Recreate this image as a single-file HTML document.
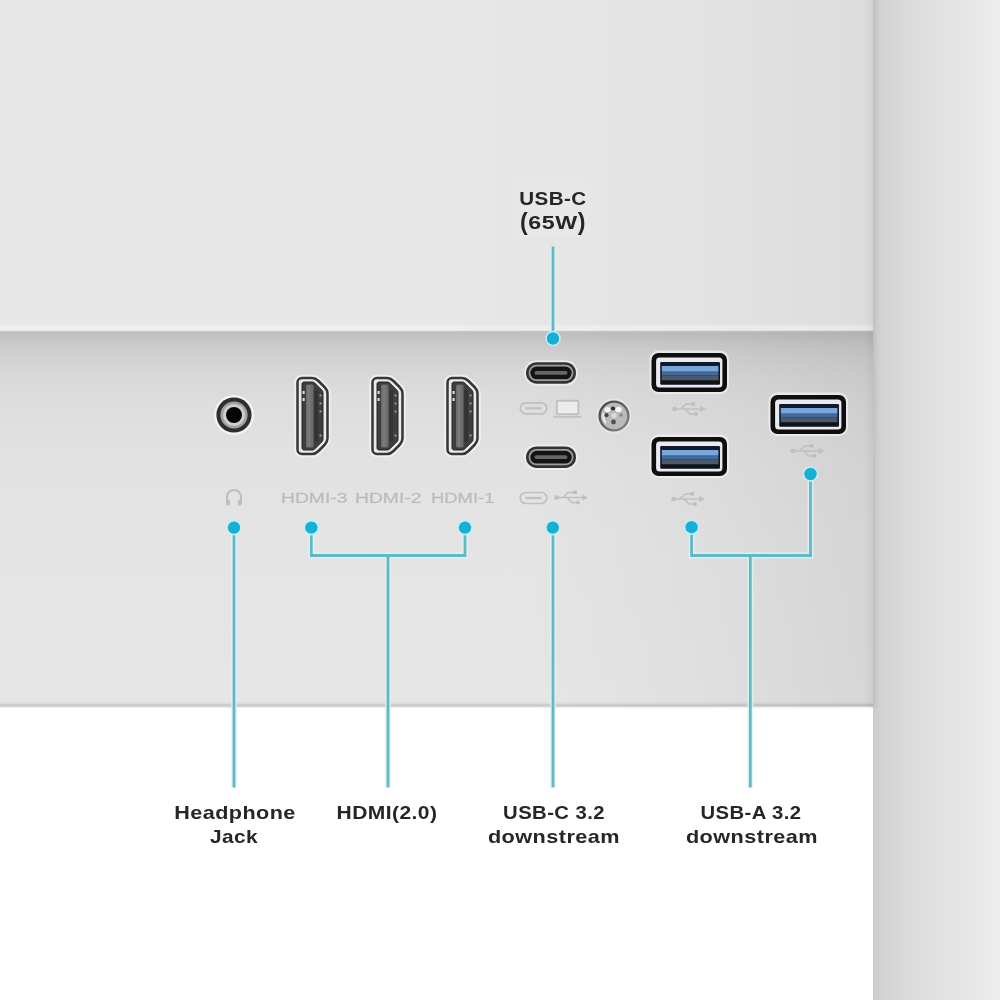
<!DOCTYPE html>
<html><head><meta charset="utf-8">
<style>
html,body{margin:0;padding:0;width:1000px;height:1000px;overflow:hidden;background:#fff;}
body{position:relative;font-family:"Liberation Sans",sans-serif;}
.a{position:absolute;}
#top{left:0;top:0;width:873px;height:332px;background:linear-gradient(to right,#e7e7e7 0px,#e7e7e7 450px,#e3e3e3 700px,#dcdcdc 873px);}
#hl{left:0;top:323px;width:873px;height:8px;background:linear-gradient(to bottom,rgba(255,255,255,0) 0,rgba(255,255,255,.35) 50%,rgba(255,255,255,.35) 75%,rgba(255,255,255,0) 100%);}
#mid{left:0;top:331px;width:873px;height:375px;background:linear-gradient(to bottom,#c6c6c6 0px,#bfbfbf 2px,#c3c3c3 6px,#c9c9c9 12px,#cfcfcf 20px,#d3d3d3 30px,#d8d8d8 45px,#dddddd 70px,#e2e2e2 130px,#e4e4e4 200px,#e6e6e6 372px,#e6e6e6 375px);}
#midr{left:0;top:331px;width:873px;height:375px;background:linear-gradient(to right,rgba(0,0,0,0) 0,rgba(0,0,0,0) 60%,rgba(0,0,0,.03) 82%,rgba(0,0,0,.07) 100%);}
#edge{left:0;top:702px;width:873px;height:7px;background:linear-gradient(to bottom,#e3e3e3 0px,#dcdcdc 1.5px,#cecece 2.5px,#cbcbcb 3.5px,#d4d4d4 4.5px,#f0f0f0 5.5px,#fff 7px);}
#bot{left:0;top:709px;width:873px;height:291px;background:#fff;}
#right{left:873px;top:0;width:127px;height:1000px;background:linear-gradient(to right,#cbcbcb 0px,#cecece 3px,#d3d3d3 10px,#d9d9d9 30px,#e0e0e0 60px,#e6e6e6 92px,#ececec 118px,#eeeeee 127px);}
.lbl{position:absolute;width:200px;filter:blur(0.25px);font-weight:bold;font-size:19px;letter-spacing:0.4px;line-height:24px;color:#262626;text-align:center;white-space:nowrap;transform-origin:50% 0;}
.pr{display:inline-block;transform:scaleY(1.3);transform-origin:50% 62%;}
.emb{position:absolute;font-size:14.5px;font-weight:normal;line-height:14px;color:#bcbcbc;-webkit-text-stroke:0.3px #bcbcbc;white-space:nowrap;text-shadow:0 1px 0 #f0f0f0;transform-origin:0 0;filter:blur(0.55px);}
#vsh{left:864px;top:0;width:16px;height:708px;background:linear-gradient(to right,rgba(0,0,0,0) 0,rgba(0,0,0,.03) 40%,rgba(0,0,0,.05) 60%,rgba(0,0,0,.02) 80%,rgba(0,0,0,0) 100%);}
svg{position:absolute;left:0;top:0;filter:blur(0.45px);}
</style></head><body>
<div class="a" id="top"></div>
<div class="a" id="hl"></div>
<div class="a" id="mid"></div>
<div class="a" id="edge"></div>
<div class="a" id="midr"></div>
<div class="a" id="bot"></div>
<div class="a" id="right"></div>
<div class="a" id="vsh"></div>
<div class="a" style="left:512px;top:177px;width:79px;height:61px;background:rgba(255,255,255,.09);filter:blur(1px);"></div>

<svg width="1000" height="1000" viewBox="0 0 1000 1000">
<defs>
 <linearGradient id="screwRing" x1="0" y1="0" x2="1" y2="1"><stop offset="0" stop-color="#3e3e3e"/><stop offset="1" stop-color="#8a8a8a"/></linearGradient>
 <filter id="soft" x="-20%" y="-20%" width="140%" height="140%"><feGaussianBlur stdDeviation="0.5"/></filter>
 <filter id="soft2" x="-20%" y="-20%" width="140%" height="140%"><feGaussianBlur stdDeviation="0.35"/></filter>
 <g id="hdmi">
  <path id="hdmiO" d="M6,1.5 H16 C19,1.5 20.5,2.5 22.5,4.5 L28.5,10.5 C30.5,12.5 31.5,14 31.5,17 V62 C31.5,65 30.5,66.5 28.5,68.5 L22.5,74.5 C20.5,76.5 19,77.5 16,77.5 H6 C3.5,77.5 1.5,75.5 1.5,73 V6 C1.5,3.5 3.5,1.5 6,1.5 Z" fill="none" stroke="#f4f4f4" stroke-width="6.5" opacity="0.75"/>
  <path d="M6,1.5 H16 C19,1.5 20.5,2.5 22.5,4.5 L28.5,10.5 C30.5,12.5 31.5,14 31.5,17 V62 C31.5,65 30.5,66.5 28.5,68.5 L22.5,74.5 C20.5,76.5 19,77.5 16,77.5 H6 C3.5,77.5 1.5,75.5 1.5,73 V6 C1.5,3.5 3.5,1.5 6,1.5 Z" fill="#ebebeb" stroke="#363636" stroke-width="2.5"/>
  <path d="M8,5.5 H16.5 C17.5,5.5 18,5.8 18.8,6.6 L26,13.8 C26.7,14.5 27,15 27,16 V63 C27,64 26.7,64.5 26,65.2 L18.8,72.4 C18,73.2 17.5,73.5 16.5,73.5 H8 C6.8,73.5 6,72.7 6,71.5 V7.5 C6,6.3 6.8,5.5 8,5.5 Z" fill="#3e3e3e" stroke="#262626" stroke-width="1"/>
  <rect x="10" y="8" width="7.5" height="63" rx="1.5" fill="#6c6c6c"/>
  <rect x="11.5" y="9" width="3" height="61" fill="#7a7a7a"/>
  <rect x="18.5" y="14" width="3.5" height="51" fill="#333"/>
  <rect x="6.5" y="14.5" width="2.2" height="3" fill="#d8d8d8"/>
  <rect x="6.5" y="21.5" width="2.2" height="3" fill="#d8d8d8"/>
  <rect x="23.5" y="18" width="2" height="2" fill="#9a9a9a"/>
  <rect x="23.5" y="26" width="2" height="2" fill="#9a9a9a"/>
  <rect x="23.5" y="34" width="2" height="2" fill="#9a9a9a"/>
  <rect x="23.5" y="58" width="2" height="2" fill="#9a9a9a"/>
 </g>
 <g id="usbc">
  <rect x="-2" y="-2" width="54" height="25.5" rx="12.75" fill="#f4f4f4" opacity="0.7"/>
  <rect x="0" y="0" width="50" height="21.5" rx="10.75" fill="#333"/>
  <rect x="2.6" y="2.6" width="44.8" height="16.3" rx="8.1" fill="#a0a0a0"/>
  <rect x="4.3" y="4.4" width="41.4" height="12.7" rx="6.3" fill="#141414"/>
  <rect x="8.5" y="8.8" width="33" height="3.8" rx="1.9" fill="#666"/>
 </g>
 <g id="usba">
  <rect x="-2" y="-2" width="79.5" height="43.5" rx="9" fill="#f2f2f2" opacity="0.7"/>
  <rect x="0" y="0.5" width="75.5" height="39" rx="7" fill="#0e0e0e"/>
  <rect x="4.6" y="5" width="66.3" height="30" rx="3.5" fill="#ebebef"/>
  <rect x="8.7" y="9.6" width="59.8" height="22.6" rx="1.2" fill="#0f1a2c"/>
  <rect x="10.3" y="13.5" width="56.6" height="5.7" fill="#79a7db"/>
  <rect x="10.3" y="19.2" width="56.6" height="3.8" fill="#416a9c"/>
  <rect x="10.3" y="23" width="56.6" height="5" fill="#4d5869"/>
  <rect x="9.5" y="28" width="58.2" height="3.6" fill="#131313"/>
 </g>
 <g id="usbsym" fill="none" stroke="#bebebe" stroke-width="1.4" filter="url(#soft)">
  <line x1="0" y1="6" x2="30" y2="6"/>
  <circle cx="1.5" cy="6" r="1.6" fill="#c4c4c4"/>
  <path d="M8,6 L13,1 L19,1"/>
  <path d="M12,6 L17,11 L22,11"/>
  <rect x="19" y="-0.3" width="2.2" height="2.2" fill="#c4c4c4"/>
  <circle cx="23" cy="11" r="1.2" fill="#c4c4c4"/>
  <path d="M28,4 L31.5,6 L28,8 Z" fill="#c4c4c4"/>
 </g>
 <g id="cicon" fill="none" stroke="#c0c0c0" stroke-width="1.7" filter="url(#soft)">
  <rect x="0.8" y="0.8" width="26.5" height="11" rx="5.5"/>
  <line x1="6" y1="6.3" x2="22" y2="6.3" stroke-width="2.2"/>
 </g>
</defs>

<!-- headphone jack -->
<circle cx="234" cy="415" r="20" fill="#f2f2f2"/>
<circle cx="234" cy="415" r="17.6" fill="#2e2e2e"/>
<circle cx="234" cy="415" r="13.6" fill="#a2a2a2"/>
<circle cx="234" cy="415" r="10.8" fill="#d0d0d0"/>
<circle cx="234" cy="415" r="8" fill="#050505"/>

<!-- HDMI -->
<use href="#hdmi" x="296" y="376.5"/>
<use href="#hdmi" x="371" y="376.5"/>
<use href="#hdmi" x="446" y="376.5"/>

<!-- USB-C -->
<use href="#usbc" x="526" y="362.2"/>
<use href="#usbc" x="526" y="446.4"/>

<!-- screw -->
<circle cx="614" cy="416" r="17.5" fill="#efefef" opacity="0.6"/>
<circle cx="614" cy="416" r="15.6" fill="url(#screwRing)"/>
<circle cx="614" cy="416" r="13.2" fill="#bababa"/>
<ellipse cx="607.5" cy="409.5" rx="3" ry="2.6" fill="#f4f4f4"/>
<ellipse cx="618.5" cy="409.5" rx="3.2" ry="2.8" fill="#f6f6f6"/>
<path d="M603.5,413 Q602.5,419 606,423" stroke="#f0f0f0" stroke-width="2" fill="none"/>
<circle cx="614" cy="415.5" r="2.6" fill="#dcdcdc"/>
<circle cx="613" cy="408.5" r="2.1" fill="#2e2e2e"/>
<circle cx="606.5" cy="415.2" r="2.1" fill="#4a4a4a"/>
<circle cx="613.5" cy="422" r="2.4" fill="#505050"/>
<circle cx="621" cy="415" r="1.8" fill="#8a8a8a"/>
<!-- USB-A -->
<use href="#usba" x="651.5" y="352.5"/>
<use href="#usba" x="651.5" y="436.5"/>
<use href="#usba" x="770.5" y="394.5"/>

<!-- embossed labels -->
<use href="#cicon" x="519.5" y="402"/>
<use href="#cicon" x="519.5" y="491.7"/>
<g fill="none" stroke="#c0c0c0" stroke-width="1.9" filter="url(#soft)">
 <rect x="556.8" y="400.7" width="21.6" height="13.4" rx="1" fill="#ececec"/>
 <line x1="553.5" y1="416.8" x2="581.5" y2="416.8"/>
</g>
<use href="#usbsym" x="555" y="491.5"/>
<use href="#usbsym" x="673" y="403"/>
<use href="#usbsym" x="672" y="493"/>
<use href="#usbsym" x="791.5" y="445"/>
<g fill="none" stroke="#bdbdbd" stroke-width="2" filter="url(#soft)">
 <path d="M227,503 L227,497 A7,7 0 0 1 241,497 L241,503"/>
 <rect x="226.5" y="499.5" width="3.5" height="6" rx="1.5" fill="#bdbdbd" stroke="none"/>
 <rect x="238" y="499.5" width="3.5" height="6" rx="1.5" fill="#bdbdbd" stroke="none"/>
</g>

<!-- callout lines -->
<g stroke="#dcf3f7" stroke-width="6" fill="none" stroke-linecap="butt" opacity="0.8">
 <path d="M234,527 V787.5"/>
 <path d="M311.3,527 V555.5 H465 V527"/>
 <path d="M388,555.5 V787.5"/>
 <path d="M553,246.5 V338"/>
 <path d="M553,527 V787.5"/>
 <path d="M691.6,527 V555.5 H810.5 V474"/>
 <path d="M750.3,555.5 V787.5"/>
</g>
<g stroke="#62b9c5" stroke-width="2.8" fill="none" stroke-linecap="butt">
 <path d="M234,527 V787.5"/>
 <path d="M311.3,527 V555.5 H465 V527"/>
 <path d="M388,555.5 V787.5"/>
 <path d="M553,246.5 V338"/>
 <path d="M553,527 V787.5"/>
 <path d="M691.6,527 V555.5 H810.5 V474"/>
 <path d="M750.3,555.5 V787.5"/>
</g>
<g fill="#17b0d5" stroke="#c6eef6" stroke-width="1.6">
 <circle cx="234" cy="527.6" r="7"/>
 <circle cx="311.3" cy="527.6" r="7"/>
 <circle cx="465" cy="527.6" r="7"/>
 <circle cx="553" cy="338.5" r="7"/>
 <circle cx="552.8" cy="527.6" r="7"/>
 <circle cx="691.6" cy="527.2" r="7"/>
 <circle cx="810.5" cy="474" r="7"/>
</g>
</svg>

<div class="emb" style="left:280.5px;top:491px;transform:scaleX(1.33);">HDMI-3</div>
<div class="emb" style="left:355px;top:491px;transform:scaleX(1.33);">HDMI-2</div>
<div class="emb" style="left:430.5px;top:491px;transform:scaleX(1.27);">HDMI-1</div>

<div class="lbl" style="left:452.8px;top:187.0px;transform:scaleX(1.083);">USB-C</div>
<div class="lbl" style="left:453.3px;top:210.5px;transform:scaleX(1.224);"><span class="pr">(</span>65W<span class="pr">)</span></div>
<div class="lbl" style="left:134.6px;top:801.0px;transform:scaleX(1.136);">Headphone</div>
<div class="lbl" style="left:134.2px;top:825.0px;transform:scaleX(1.098);">Jack</div>
<div class="lbl" style="left:286.9px;top:801.0px;transform:scaleX(1.105);">HDMI(2.0)</div>
<div class="lbl" style="left:453.5px;top:801.0px;transform:scaleX(1.067);">USB-C 3.2</div>
<div class="lbl" style="left:453.8px;top:825.0px;transform:scaleX(1.140);">downstream</div>
<div class="lbl" style="left:650.7px;top:801.0px;transform:scaleX(1.066);">USB-A 3.2</div>
<div class="lbl" style="left:651.7px;top:825.0px;transform:scaleX(1.140);">downstream</div>
</body></html>
